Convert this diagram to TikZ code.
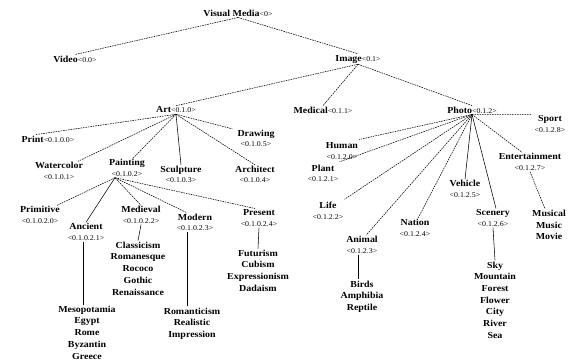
\documentclass[tikz,border=0pt]{standalone}
\usepackage{fontspec}
\setmainfont[FakeStretch=1.08]{Liberation Serif}
\newcommand\codetext[1]{{\mdseries\fontsize{7.3}{8}\selectfont #1}}
\begin{document}
\begin{tikzpicture}[x=1pt,y=-1pt,
  lbl/.style={inner sep=1pt, align=center, font=\bfseries\fontsize{9.2}{10.5}\selectfont},
  lst/.style={inner sep=1pt, align=center, font=\bfseries\fontsize{9.2}{11.7}\selectfont},
  edge/.style={line width=0.55pt, dash pattern=on 1.6pt off 0.9pt},
  sedge/.style={line width=0.55pt}]
\useasboundingbox[fill=white] (0,0) rectangle (577,360);
% level 0-2
\node[lbl] (vm) at (238,13) {Visual Media\codetext{<0>}};
\node[lbl] (video) at (75,59) {Video\codetext{<0.0>}};
\node[lbl] (image) at (358,59) {Image\codetext{<0.1>}};
\node[lbl] (art) at (176,110) {Art\codetext{<0.1.0>}};
\node[lbl] (medical) at (323,110) {Medical\codetext{<0.1.1>}};
\node[lbl] (photo) at (472,110) {Photo\codetext{<0.1.2>}};
% Art children
\node[lbl] (print) at (48,139) {Print\codetext{<0.1.0.0>}};
\node[lbl] (watercolor) at (59,171) {Watercolor\\\codetext{<0.1.0.1>}};
\node[lbl] (painting) at (127,168) {Painting\\\codetext{<0.1.0.2>}};
\node[lbl] (sculpture) at (181,174.5) {Sculpture\\\codetext{<0.1.0.3>}};
\node[lbl] (architect) at (255,174.5) {Architect\\\codetext{<0.1.0.4>}};
\node[lbl] (drawing) at (256,138.5) {Drawing\\\codetext{<0.1.0.5>}};
% Painting children
\node[lbl] (primitive) at (40,215) {Primitive\\\codetext{<0.1.0.2.0>}};
\node[lbl] (ancient) at (86,232) {Ancient\\\codetext{<0.1.0.2.1>}};
\node[lbl] (medieval) at (141,215) {Medieval\\\codetext{<0.1.0.2.2>}};
\node[lbl] (modern) at (195,222.5) {Modern\\\codetext{<0.1.0.2.3>}};
\node[lbl] (present) at (259,218) {Present\\\codetext{<0.1.0.2.4>}};
% Photo children
\node[lbl] (human) at (342,151) {Human\\\codetext{<0.1.2.0>}};
\node[lbl] (plant) at (323,173.5) {Plant\\\codetext{<0.1.2.1>}};
\node[lbl] (life) at (328,211) {Life\\\codetext{<0.1.2.2>}};
\node[lbl] (animal) at (362,245) {Animal\\\codetext{<0.1.2.3>}};
\node[lbl] (nation) at (415,228) {Nation\\\codetext{<0.1.2.4>}};
\node[lbl] (vehicle) at (465,189) {Vehicle\\\codetext{<0.1.2.5>}};
\node[lbl] (scenery) at (493,218) {Scenery\\\codetext{<0.1.2.6>}};
\node[lbl] (entertainment) at (530,162) {Entertainment\\\codetext{<0.1.2.7>}};
\node[lbl] (sport) at (550,124) {Sport\\\codetext{<0.1.2.8>}};
% leaf lists
\node[lst] (mesolist) at (87,332.5) {Mesopotamia\\Egypt\\Rome\\Byzantin\\Greece};
\node[lst] (classlist) at (138,268.5) {Classicism\\Romanesque\\Rococo\\Gothic\\Renaissance};
\node[lst] (romlist) at (192,323.5) {Romanticism\\Realistic\\Impression};
\node[lst] (futlist) at (258,270.5) {Futurism\\Cubism\\Expressionism\\Dadaism};
\node[lst] (birdlist) at (362,296.5) {Birds\\Amphibia\\Reptile};
\node[lst] (skylist) at (495,300) {Sky\\Mountain\\Forest\\Flower\\City\\River\\Sea};
\node[lst] (muslist) at (549,225) {Musical\\Music\\Movie};
% convergence point of Painting
\coordinate (pj) at ([xshift=-12pt]painting.south);
% edges
\draw[edge] (vm.south) -- (video.north);
\draw[edge] (vm.south) -- (image.north);
\draw[edge] (image.south) -- (art.north);
\draw[edge] (image.south) -- (medical.north);
\draw[edge] (image.south) -- (photo.north);
\draw[edge] (art.south) -- ([xshift=-12pt]print.north);
\draw[edge] (art.south) -- ([xshift=-6pt]watercolor.north east);
\draw[edge] (art.south) -- ([xshift=6pt]painting.north);
\draw[sedge] (art.south) -- (sculpture.north);
\draw[edge] (art.south) -- (architect.north);
\draw[edge] (art.south) -- ([xshift=-4pt]drawing.north west);
\draw[edge] (pj) -- ([xshift=-4pt]primitive.north east);
\draw[sedge] (pj) -- (ancient.north);
\draw[edge] (pj) -- (medieval.north);
\draw[edge] (pj) -- ([xshift=-8pt]modern.north);
\draw[edge] (pj) -- ([xshift=-4pt]present.north);
\draw[edge] (photo.south) -- ([xshift=-2pt]sport.north west);
\draw[edge] (photo.south) -- ([xshift=-8pt]entertainment.north);
\draw[edge] (photo.south) -- ([yshift=2pt]human.north east);
\draw[edge] (photo.south) -- ([yshift=2pt]plant.north east);
\draw[edge] (photo.south) -- ([yshift=2pt]life.north east);
\draw[edge] (photo.south) -- ([xshift=4pt]animal.north);
\draw[edge] (photo.south) -- ([xshift=3pt]nation.north);
\draw[sedge] (photo.south) -- (vehicle.north);
\draw[sedge] (photo.south) -- ([xshift=3pt]scenery.north);
\draw[edge] (entertainment.south) -- ([xshift=-4pt]muslist.north);
\draw[sedge] ([xshift=-3pt]ancient.south) -- ([xshift=-4pt]mesolist.north);
\draw[sedge] (medieval.south) -- ([xshift=0pt]classlist.north);
\draw[sedge] ([xshift=-8pt]modern.south) -- ([xshift=-5pt]romlist.north);
\draw[sedge] (present.south) -- (futlist.north);
\draw[sedge] ([xshift=-4pt]animal.south) -- ([xshift=-4pt]birdlist.north);
\draw[sedge] (scenery.south) -- (skylist.north);
\end{tikzpicture}
\end{document}
